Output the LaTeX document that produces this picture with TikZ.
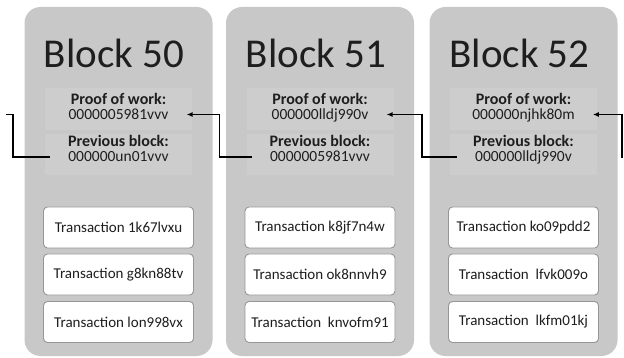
\documentclass[tikz,border=0pt]{standalone}
\usepackage{fontspec}
\setmainfont{Carlito}
\usetikzlibrary{arrows.meta,calc}
\definecolor{blockgrey}{RGB}{200,200,200}
\definecolor{innergrey}{RGB}{205,205,205}
\definecolor{txborder}{RGB}{150,150,150}
\definecolor{inktext}{RGB}{30,30,30}
\begin{document}
\begin{tikzpicture}[x=1pt,y=-1pt,
 blockbox/.style={draw=none, fill=blockgrey, rounded corners=16pt, minimum width=188pt, minimum height=349pt, inner sep=0pt},
 fieldbox/.style={fill=innergrey, minimum width=147pt, minimum height=42pt, inner sep=0pt},
 blocktitle/.style={font=\fontsize{41}{41}\selectfont, text=inktext, anchor=base, inner sep=0pt},
 fieldlabel/.style={font=\fontsize{16}{16}\selectfont\bfseries, text=inktext, text height=10pt, text depth=0pt, inner ysep=0pt, inner xsep=0pt},
 hashval/.style={font=\fontsize{15.5}{15.5}\selectfont, text=inktext, text height=10pt, text depth=0pt, inner ysep=0pt, inner xsep=18pt},
 txbox/.style={draw=txborder, line width=0.9pt, fill=white, rounded corners=4pt, minimum width=150pt, minimum height=41pt, inner sep=0pt, text=inktext, font=\fontsize{15}{15}\selectfont},
 linkline/.style={line width=1.4pt},
 link/.style={line width=1.4pt, -{Latex[length=6pt,width=5pt]}}
]
\useasboundingbox (0,0) rectangle (624,358);
\foreach \i/\cx/\tx/\ph/\pv/\ta/\tb/\tc in {
 50/118.5/114/0000005981vvv/000000un01vvv/Transaction 1k67lvxu/Transaction g8kn88tv/Transaction lon998vx,
 51/320/316/000000lldj990v/0000005981vvv/Transaction k8jf7n4w/Transaction ok8nnvh9/Transaction~ knvofm91,
 52/523.5/519.5/000000njhk80m/000000lldj990v/Transaction ko09pdd2/Transaction~ lfvk009o/Transaction~ lkfm01kj}{
  \node[blockbox] (b\i) at (\cx,181.5) {};
  \node[blocktitle] (t\i) at (\tx,68) {Block \i};
  \node[fieldbox] (fp\i) at (\cx,109) {};
  \node[fieldbox, minimum height=41pt] (fv\i) at (\cx,154.5) {};
  \node[fieldlabel] (lp\i) at (\cx,100) {Proof of work:};
  \node[hashval] (ph\i) at (\cx,114.5) {\ph};
  \node[fieldlabel] (lv\i) at (\cx,142) {Previous block:};
  \node[hashval] (pv\i) at (\cx,157) {\pv};
  \node[txbox] (ta\i) at (\cx,227.5) {\ta};
  \node[txbox] (tb\i) at (\cx,274.5) {\tb};
  \node[txbox] (tc\i) at (\cx,322) {\tc};
}
\coordinate (e0) at (6,114.5);
\coordinate (g0) at (13,135);
\coordinate (g1) at (219.5,135);
\coordinate (g2) at (422,135);
\coordinate (e3) at (622,158);
\draw[linkline] (pv50.west) -| (g0) |- (e0);
\draw[link] (pv51.west) -| (g1) |- (ph50.east);
\draw[link] (pv52.west) -| (g2) |- (ph51.east);
\draw[link] (e3) |- (ph52.east);
\end{tikzpicture}
\end{document}
